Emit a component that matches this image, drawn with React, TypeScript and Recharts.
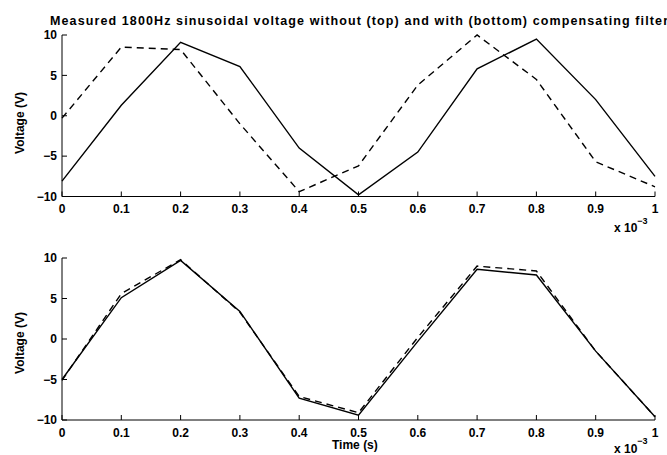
import { Line, LineChart, XAxis, YAxis } from 'recharts';

// time in units of 1e-3 s
const time = [0, 0.1, 0.2, 0.3, 0.4, 0.5, 0.6, 0.7, 0.8, 0.9, 1];
// without compensating filter
const topSolid = [-8.1, 1.3, 9.1, 6.1, -4.0, -9.8, -4.5, 5.8, 9.5, 2.0, -7.5];
const topDashed = [-0.3, 8.5, 8.2, -1.0, -9.4, -6.2, 3.8, 10.0, 4.5, -5.7, -8.8];
// with compensating filter
const bottomSolid = [-5.0, 5.1, 9.7, 3.4, -7.3, -9.4, -0.3, 8.6, 7.9, -1.5, -9.6];
const bottomDashed = [-5.1, 5.6, 9.8, 3.3, -7.1, -9.1, 0.2, 9.0, 8.4, -1.5, -9.6];

const timeTicks = [0, 0.1, 0.2, 0.3, 0.4, 0.5, 0.6, 0.7, 0.8, 0.9, 1];
const voltTicks = [-10, -5, 0, 5, 10];

const font = '"Liberation Sans", Arial, sans-serif';
const ink = '#000';
const weight = 'bold';

const fmtVolt = (v: number) => (v < 0 ? `\u2212${Math.abs(v)}` : String(v));

interface PanelProps {
  solid: number[];
  dashed: number[];
  height: number;
  top: number;
  axisHeight: number;
  tickGap: number;
}

function Panel({ solid, dashed, height, top, axisHeight, tickGap }: PanelProps) {
  const data = time.map((t, i) => ({ t, solid: solid[i], dashed: dashed[i] }));
  const tickStyle = { fill: ink, fontSize: 12, fontWeight: weight };
  return (
    <LineChart
      width={667}
      height={height}
      data={data}
      margin={{ top, right: 12, bottom: 0, left: 0 }}
      style={{ fontFamily: font }}
    >
      <XAxis
        xAxisId="b"
        dataKey="t"
        type="number"
        domain={[0, 1]}
        ticks={timeTicks}
        interval={0}
        height={axisHeight}
        stroke={ink}
        tickSize={-5}
        tickMargin={tickGap}
        tick={tickStyle}
      />
      <XAxis
        xAxisId="t"
        orientation="top"
        dataKey="t"
        type="number"
        domain={[0, 1]}
        ticks={timeTicks}
        interval={0}
        height={0}
        stroke={ink}
        tickSize={-5}
        tick={false}
      />
      <YAxis
        yAxisId="l"
        type="number"
        domain={[-10, 10]}
        ticks={voltTicks}
        interval={0}
        width={62}
        stroke={ink}
        tickSize={-5}
        tickMargin={10}
        tickFormatter={fmtVolt}
        tick={tickStyle}
      />
      <YAxis
        yAxisId="r"
        orientation="right"
        type="number"
        domain={[-10, 10]}
        ticks={voltTicks}
        interval={0}
        width={0}
        stroke={ink}
        tickSize={-5}
        tick={false}
      />
      <Line
        xAxisId="b"
        yAxisId="l"
        dataKey="dashed"
        type="linear"
        stroke={ink}
        strokeWidth={1.4}
        strokeDasharray="7 5"
        dot={false}
        isAnimationActive={false}
      />
      <Line
        xAxisId="b"
        yAxisId="l"
        dataKey="solid"
        type="linear"
        stroke={ink}
        strokeWidth={1.4}
        dot={false}
        isAnimationActive={false}
      />
    </LineChart>
  );
}

export default function App() {
  return (
    <div
      style={{
        position: 'absolute',
        left: 0,
        top: 0,
        width: 667,
        height: 455,
        background: '#fff',
        overflow: 'hidden',
      }}
    >
      <div style={{ position: 'absolute', left: 0, top: 0 }}>
        <Panel solid={topSolid} dashed={topDashed} height={230} top={35} axisHeight={33.5} tickGap={13} />
      </div>
      <div style={{ position: 'absolute', left: 0, top: 230 }}>
        <Panel solid={bottomSolid} dashed={bottomDashed} height={225} top={28} axisHeight={35} tickGap={13} />
      </div>
      <svg
        width={667}
        height={455}
        style={{ position: 'absolute', left: 0, top: 0, pointerEvents: 'none', fontFamily: font }}
        fontWeight={weight}
      >
        <text x={50} y={25} fontSize={12.5} fill={ink} textLength={618} lengthAdjust="spacing">
          Measured 1800Hz sinusoidal voltage without (top) and with (bottom) compensating filter
        </text>
        <text
          x={20}
          y={123}
          fontSize={12}
          fill={ink}
          textAnchor="middle"
          dominantBaseline="central"
          transform="rotate(-90 20 123)"
        >
          Voltage (V)
        </text>
        <text
          x={20}
          y={343}
          fontSize={12}
          fill={ink}
          textAnchor="middle"
          dominantBaseline="central"
          transform="rotate(-90 20 343)"
        >
          Voltage (V)
        </text>
        <text x={332} y={449} fontSize={12} fill={ink}>
          Time (s)
        </text>
        <text x={614} y={232} fontSize={12} fill={ink}>
          x 10<tspan dy={-8} fontSize={9}>{'\u22123'}</tspan>
        </text>
        <text x={614} y={453} fontSize={12} fill={ink}>
          x 10<tspan dy={-9} fontSize={9}>{'\u22123'}</tspan>
        </text>
      </svg>
    </div>
  );
}
